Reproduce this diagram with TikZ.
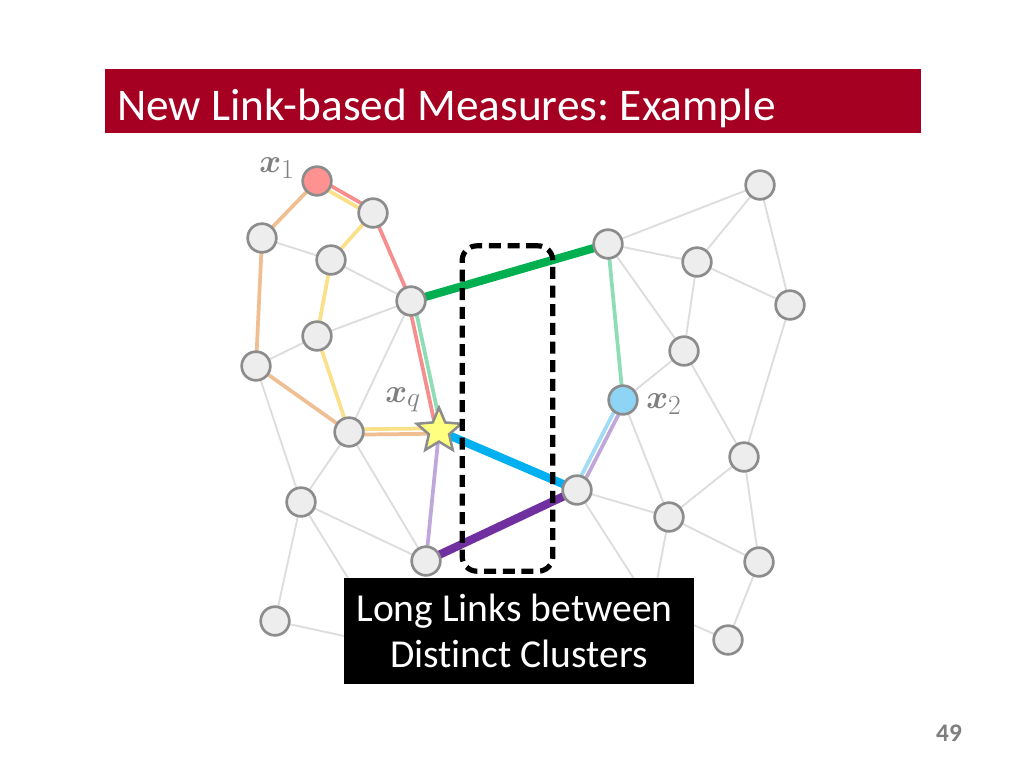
\documentclass[tikz,border=0pt]{standalone}
\usepackage[no-math]{fontspec}
\newfontfamily\carl[Ligatures=NoCommon]{Carlito}
\usepackage{bm}
\usetikzlibrary{shapes.geometric,calc}
\pgfdeclarelayer{bg}
\pgfdeclarelayer{paper}
\pgfsetlayers{paper,bg,main}
\definecolor{titlered}{HTML}{A50021}
\definecolor{nodefill}{HTML}{EDEDED}
\definecolor{nodedraw}{HTML}{8C8C8C}
\definecolor{edgegray}{HTML}{DDDDDD}
\definecolor{redl}{HTML}{F58E8C}
\definecolor{yell}{HTML}{FBE08A}
\definecolor{orl}{HTML}{EFBE93}
\definecolor{grl}{HTML}{8FDDB5}
\definecolor{grthick}{HTML}{00B050}
\definecolor{blthick}{HTML}{00B0F0}
\definecolor{bll}{HTML}{A0DCF5}
\definecolor{puthick}{HTML}{7030A0}
\definecolor{pul}{HTML}{BFA8D9}
\definecolor{xonefill}{HTML}{FF9191}
\definecolor{xtwofill}{HTML}{8ED4F5}
\definecolor{starfill}{HTML}{FFFF80}
\definecolor{labelgray}{HTML}{7F7F7F}
\begin{document}
\frenchspacing
\begin{tikzpicture}[x=0.75pt,y=-0.75pt,
  vtx/.style={circle, draw=nodedraw, fill=nodefill, line width=2pt, minimum size=21.5pt, inner sep=0pt},
  gedge/.style={draw=edgegray, line width=1.4pt},
  lightlink/.style={line width=2.8pt},
  heavylink/.style={line width=6.2pt},
  lbl/.style={anchor=base west, inner sep=0pt, text=labelgray, font=\fontsize{29}{34}\selectfont}]
\begin{pgfonlayer}{paper}
\fill[white] (0,0) rectangle (1024,768);
\end{pgfonlayer}
\useasboundingbox (0,0) rectangle (1024,768);
% title
\node[fill=titlered, minimum width=612pt, minimum height=48pt, inner sep=0pt] (bar) at (513,101) {};
\node[anchor=base west, inner sep=0pt, text=white, font=\carl\fontsize{34}{41}\selectfont] (title) at (117,120) {New Link-based Measures: Example};
% left cluster
\node[vtx, fill=xonefill] (x1) at (317,181) {};
\node[vtx] (A) at (373,213) {};
\node[vtx] (B) at (262,238) {};
\node[vtx] (C) at (331,260) {};
\node[vtx] (D) at (411,301) {};
\node[vtx] (E) at (317,336) {};
\node[vtx] (F) at (256,366) {};
\node[vtx] (G) at (349,432) {};
\node[star, star points=5, star point ratio=2.2, draw=nodedraw, fill=starfill, line width=1.9pt, minimum size=35pt, inner sep=0pt] (xq) at (439,431) {};
\node[vtx] (H) at (301,502) {};
\node[vtx] (I) at (426,561) {};
\node[vtx] (J) at (275,621) {};
\coordinate (HL) at (390,646);
% right cluster
\node[vtx] (K) at (760,185) {};
\node[vtx] (L) at (608,244) {};
\node[vtx] (M) at (697,262) {};
\node[vtx] (N) at (790,305) {};
\node[vtx] (O) at (684,351) {};
\node[vtx, fill=xtwofill] (x2) at (623,400) {};
\node[vtx] (P) at (744,457) {};
\node[vtx] (Q) at (577,490) {};
\node[vtx] (R) at (669,517) {};
\node[vtx] (S) at (759,562) {};
\node[vtx] (T) at (728,640) {};
\coordinate (HR) at (652,607);
% labels
\node[lbl] (lx1) at (259,172) {$\bm{x}_1$};
\node[lbl] (lxq) at (385,402) {$\bm{x}_q$};
\node[lbl] (lx2) at (646,408) {$\bm{x}_2$};
\begin{pgfonlayer}{bg}
\foreach \a/\b in {B/C, C/D, E/D, E/F, D/G, F/H, G/H, G/I, H/I, H/J, H/HL, J/HL,
  L/K, L/M, L/O, M/K, M/N, M/O, K/N, O/x2, O/P, N/P, x2/R, P/R, P/S, Q/R, R/S, Q/HR, R/HR, S/T, T/HR}
  \draw[gedge] (\a.center) -- (\b.center);
% red path
\draw[lightlink, redl] ($(x1.center)!2pt!90:(A.center)$) -- ($(A.center)!2pt!-90:(x1.center)$);
\draw[lightlink, redl] (A.center) -- (D.center);
\draw[lightlink, redl] ($(D.center)!2pt!-90:(xq.center)$) -- ($(xq.center)!2pt!90:(D.center)$);
% yellow path
\draw[lightlink, yell] ($(x1.center)!2pt!-90:(A.center)$) -- ($(A.center)!2pt!90:(x1.center)$);
\draw[lightlink, yell] (A.center) -- (C.center) -- (E.center) -- (G.center);
\draw[lightlink, yell] ($(G.center)!2pt!90:(xq.center)$) -- ($(xq.center)!2pt!-90:(G.center)$);
% orange path
\draw[lightlink, orl] (x1.center) -- (B.center) -- (F.center) -- (G.center);
\draw[lightlink, orl] ($(G.center)!2pt!-90:(xq.center)$) -- ($(xq.center)!2pt!90:(G.center)$);
% green path
\draw[lightlink, grl] ($(D.center)!2pt!90:(xq.center)$) -- ($(xq.center)!2pt!-90:(D.center)$);
\draw[lightlink, grl] (L.center) -- (x2.center);
% blue path
\draw[lightlink, bll] ($(Q.center)!2pt!90:(x2.center)$) -- ($(x2.center)!2pt!-90:(Q.center)$);
% purple path
\draw[lightlink, pul] (xq.center) -- (I.center);
\draw[lightlink, pul] ($(Q.center)!2pt!-90:(x2.center)$) -- ($(x2.center)!2pt!90:(Q.center)$);
% long links
\draw[heavylink, grthick] (D.center) -- (L.center);
\draw[heavylink, blthick] (xq.center) -- (Q.center);
\draw[heavylink, puthick] (I.center) -- (Q.center);
\end{pgfonlayer}
% dashed region
\node[draw=black, line width=3.9pt, dash pattern=on 9pt off 5pt, rounded corners=11pt,
  minimum width=68pt, minimum height=244pt, inner sep=0pt] (dbox) at (507.5,408.5) {};
% note box
\node[fill=black, minimum width=262.5pt, minimum height=79.5pt, inner sep=0pt, text=white,
  align=center, font=\carl\fontsize{29.7}{35}\selectfont] (note) at (519,631)
  {Long Links between\hspace*{0.226em}\\Distinct Clusters};
% page number
\node[anchor=base, inner sep=0pt, text=labelgray, font=\carl\bfseries\fontsize{19}{23}\selectfont] (pnum) at (949,741) {49};
\end{tikzpicture}
\end{document}
